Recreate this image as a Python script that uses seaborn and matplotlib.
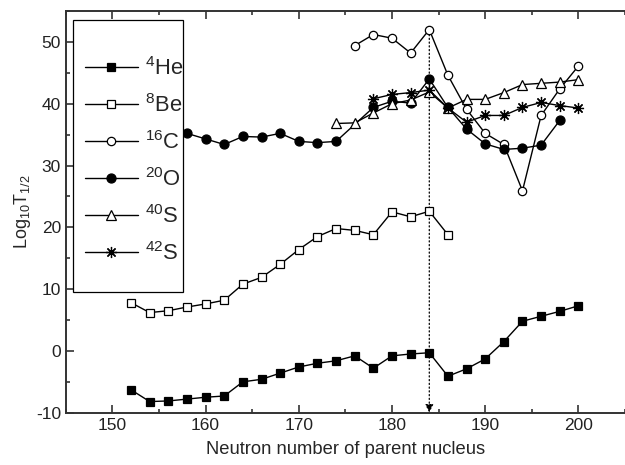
import numpy as np
import pandas as pd
import matplotlib
matplotlib.use("Agg")
import matplotlib.pyplot as plt
from matplotlib.ticker import MultipleLocator
from matplotlib.patches import Rectangle
import seaborn as sns

sns.set_theme(style="ticks")
plt.rcParams['font.family'] = ['Liberation Sans', 'DejaVu Sans']
plt.rcParams['mathtext.fontset'] = 'custom'
plt.rcParams['mathtext.rm'] = 'Liberation Sans'
plt.rcParams['mathtext.it'] = 'Liberation Sans'
plt.rcParams['axes.unicode_minus'] = False

# Neutron numbers and log10 half-lives
n_he4 = list(range(152, 201, 2))
t_he4 = [-6.3, -8.2, -8.1, -7.8, -7.5, -7.3, -5.0, -4.6, -3.6, -2.6, -2.0, -1.6, -0.8,
         -2.8, -0.8, -0.5, -0.3, -4.1, -2.9, -1.3, 1.5, 4.8, 5.6, 6.4, 7.3]

n_be8 = list(range(152, 187, 2))
t_be8 = [7.8, 6.2, 6.5, 7.1, 7.6, 8.2, 10.8, 11.9, 14.0, 16.4, 18.5, 19.8, 19.5,
         18.8, 22.5, 21.7, 22.6, 18.8]

n_c16 = list(range(176, 201, 2))
t_c16 = [49.4, 51.2, 50.6, 48.2, 52.0, 44.6, 39.1, 35.2, 33.4, 25.9, 38.1, 42.4, 46.1]

n_o20 = [158, 160, 162, 164, 166, 168, 170, 172, 174, 178, 180, 182, 184, 186, 188,
         190, 192, 194, 196, 198]
t_o20 = [35.2, 34.3, 33.4, 34.7, 34.6, 35.2, 33.9, 33.7, 33.9, 39.4, 40.4, 40.1, 44.0,
         39.4, 35.9, 33.5, 32.6, 32.8, 33.3, 37.3]

n_s40 = list(range(174, 201, 2))
t_s40 = [36.8, 36.9, 38.5, 40.0, 40.6, 41.9, 39.3, 40.7, 40.7, 41.8, 43.1, 43.3, 43.5, 43.9]

n_s42 = list(range(178, 201, 2))
t_s42 = [40.8, 41.5, 41.8, 42.2, 39.3, 37.0, 38.1, 38.1, 39.4, 40.2, 39.7, 39.3]

series = [
    (r'$^{4}$He', n_he4, t_he4, 's', 'black', 5.5),
    (r'$^{8}$Be', n_be8, t_be8, 's', 'white', 5.5),
    (r'$^{16}$C', n_c16, t_c16, 'o', 'white', 6),
    (r'$^{20}$O', n_o20, t_o20, 'o', 'black', 6.5),
    (r'$^{40}$S', n_s40, t_s40, '^', 'white', 7.5),
    (r'$^{42}$S', n_s42, t_s42, (8, 2, 0), 'black', 8),
]

fig = plt.figure(figsize=(6.25, 4.65), dpi=100)
ax = fig.add_axes([0.1053, 0.1125, 0.8947, 0.8638])

for label, n, t, mk, face, ms in series:
    df = pd.DataFrame({"N": n, "T": t})
    sns.lineplot(data=df, x="N", y="T", ax=ax, color="black", lw=1.0,
                 marker=mk, markersize=ms, markerfacecolor=face,
                 markeredgecolor="black", markeredgewidth=0.9, label=label)

# magic number N = 184 marker
ax.annotate("", xy=(184, -10), xytext=(184, 51.2),
            arrowprops=dict(arrowstyle="-|>", linestyle=(0, (1, 2)), color="black",
                            lw=0.9, mutation_scale=12, shrinkA=0, shrinkB=0),
            zorder=1)

ax.set_xlim(145, 205)
ax.set_ylim(-10, 55)
ax.xaxis.set_major_locator(MultipleLocator(10))
ax.xaxis.set_minor_locator(MultipleLocator(5))
ax.yaxis.set_major_locator(MultipleLocator(10))
ax.yaxis.set_minor_locator(MultipleLocator(5))
ax.tick_params(which="both", direction="in", top=True, right=False,
               labelsize=12.5, colors="#222222", width=1.1)
ax.tick_params(which="major", length=5.5)
ax.tick_params(which="minor", length=3)
for s in ["left", "bottom", "top"]:
    ax.spines[s].set_linewidth(1.4)
    ax.spines[s].set_color("#333333")
ax.spines["right"].set_visible(False)

ax.set_xlabel("Neutron number of parent nucleus", fontsize=13.2, labelpad=6)
ax.set_ylabel(r"Log$_{10}$T$_{1/2}$", fontsize=13, labelpad=2)

# legend frame drawn separately so the box matches the original proportions
box = Rectangle((0.0129, 0.3005), 0.1967, 0.6771, transform=ax.transAxes,
                facecolor="white", edgecolor="black", lw=0.9, zorder=4)
ax.add_patch(box)
leg = ax.legend(loc="center left", bbox_to_anchor=(0.0344, 0.6266), borderaxespad=0,
                borderpad=0, fontsize=15.8, handlelength=2.4, handletextpad=0.35,
                labelspacing=0.645, frameon=False)
leg.set_zorder(5)

fig.savefig("out.png", dpi=100)
